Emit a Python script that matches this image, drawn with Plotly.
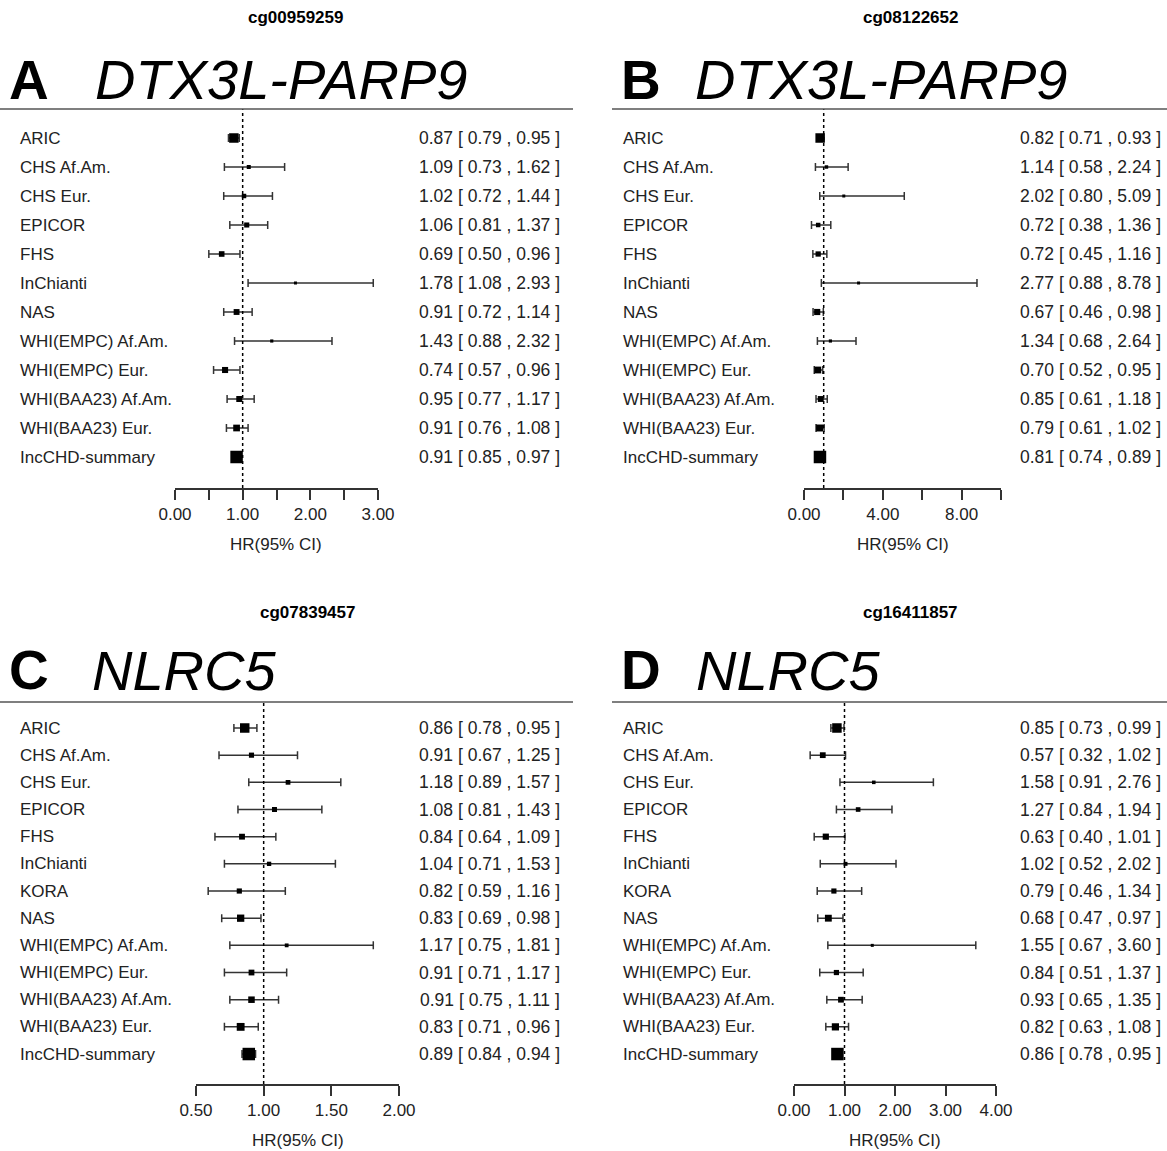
import numpy as np
import plotly.graph_objects as go

W, H = 1167, 1151
FONT = "Liberation Sans, Arial, sans-serif"
TXT = "#222222"
GREY = "#333333"

# ---------------- data ----------------
studies_ab = ["ARIC", "CHS Af.Am.", "CHS Eur.", "EPICOR", "FHS", "InChianti", "NAS",
              "WHI(EMPC) Af.Am.", "WHI(EMPC) Eur.", "WHI(BAA23) Af.Am.",
              "WHI(BAA23) Eur.", "IncCHD-summary"]
studies_cd = ["ARIC", "CHS Af.Am.", "CHS Eur.", "EPICOR", "FHS", "InChianti", "KORA", "NAS",
              "WHI(EMPC) Af.Am.", "WHI(EMPC) Eur.", "WHI(BAA23) Af.Am.",
              "WHI(BAA23) Eur.", "IncCHD-summary"]

# cg00959259 (DTX3L-PARP9)
a_hr = [0.87, 1.09, 1.02, 1.06, 0.69, 1.78, 0.91, 1.43, 0.74, 0.95, 0.91, 0.91]
a_lo = [0.79, 0.73, 0.72, 0.81, 0.50, 1.08, 0.72, 0.88, 0.57, 0.77, 0.76, 0.85]
a_hi = [0.95, 1.62, 1.44, 1.37, 0.96, 2.93, 1.14, 2.32, 0.96, 1.17, 1.08, 0.97]

# cg08122652 (DTX3L-PARP9)
b_hr = [0.82, 1.14, 2.02, 0.72, 0.72, 2.77, 0.67, 1.34, 0.70, 0.85, 0.79, 0.81]
b_lo = [0.71, 0.58, 0.80, 0.38, 0.45, 0.88, 0.46, 0.68, 0.52, 0.61, 0.61, 0.74]
b_hi = [0.93, 2.24, 5.09, 1.36, 1.16, 8.78, 0.98, 2.64, 0.95, 1.18, 1.02, 0.89]

# cg07839457 (NLRC5)
c_hr = [0.86, 0.91, 1.18, 1.08, 0.84, 1.04, 0.82, 0.83, 1.17, 0.91, 0.91, 0.83, 0.89]
c_lo = [0.78, 0.67, 0.89, 0.81, 0.64, 0.71, 0.59, 0.69, 0.75, 0.71, 0.75, 0.71, 0.84]
c_hi = [0.95, 1.25, 1.57, 1.43, 1.09, 1.53, 1.16, 0.98, 1.81, 1.17, 1.11, 0.96, 0.94]

# cg16411857 (NLRC5)
d_hr = [0.85, 0.57, 1.58, 1.27, 0.63, 1.02, 0.79, 0.68, 1.55, 0.84, 0.93, 0.82, 0.86]
d_lo = [0.73, 0.32, 0.91, 0.84, 0.40, 0.52, 0.46, 0.47, 0.67, 0.51, 0.65, 0.63, 0.78]
d_hi = [0.99, 1.02, 2.76, 1.94, 1.01, 2.02, 1.34, 0.97, 3.60, 1.37, 1.35, 1.08, 0.95]

# axis ticks per panel
a_ticks = [0, 0.5, 1, 1.5, 2, 2.5, 3]
a_ticktext = ["0.00", "", "1.00", "", "2.00", "", "3.00"]
b_ticks = [0, 2, 4, 6, 8, 10]
b_ticktext = ["0.00", "", "4.00", "", "8.00", ""]
c_ticks = [0.5, 1.0, 1.5, 2.0]
c_ticktext = ["0.50", "1.00", "1.50", "2.00"]
d_ticks = [0, 1, 2, 3, 4]
d_ticktext = ["0.00", "1.00", "2.00", "3.00", "4.00"]

# ---------------- layout geometry (pixels) ----------------
panels = [
    dict(cpg="cg00959259", letter="A", gene="DTX3L-PARP9", studies=studies_ab,
         hr=a_hr, lo=a_lo, hi=a_hi, ticks=a_ticks, ticktext=a_ticktext,
         xr=(0, 3), xpx=(175, 378), left=0, right=573, lab_x=18, ci_x=562,
         title_x=295, title_y=17, head_y=80, gene_x=93, rule_y=109,
         row0=138, step=29.0, axis_y=488),
    dict(cpg="cg08122652", letter="B", gene="DTX3L-PARP9", studies=studies_ab,
         hr=b_hr, lo=b_lo, hi=b_hi, ticks=b_ticks, ticktext=b_ticktext,
         xr=(0, 10), xpx=(804, 1001), left=612, right=1167, lab_x=621, ci_x=1163,
         title_x=910, title_y=17, head_y=80, gene_x=693, rule_y=109,
         row0=138, step=29.0, axis_y=488),
    dict(cpg="cg07839457", letter="C", gene="NLRC5", studies=studies_cd,
         hr=c_hr, lo=c_lo, hi=c_hi, ticks=c_ticks, ticktext=c_ticktext,
         xr=(0.5, 2), xpx=(196, 399), left=0, right=573, lab_x=18, ci_x=562,
         title_x=307, title_y=612, head_y=670, gene_x=90, rule_y=702,
         row0=728, step=27.17, axis_y=1084),
    dict(cpg="cg16411857", letter="D", gene="NLRC5", studies=studies_cd,
         hr=d_hr, lo=d_lo, hi=d_hi, ticks=d_ticks, ticktext=d_ticktext,
         xr=(0, 4), xpx=(794, 996), left=612, right=1167, lab_x=621, ci_x=1163,
         title_x=910, title_y=612, head_y=670, gene_x=694, rule_y=702,
         row0=728, step=27.17, axis_y=1084),
]


def px_x(p):
    return p / W


def px_y(p):
    return 1 - p / H


fig = go.Figure()
annotations = []
shapes = []
layout_axes = {}

for k, p in enumerate(panels, start=1):
    sfx = "" if k == 1 else str(k)
    xa, ya = "x" + sfx, "y" + sfx
    n = len(p["studies"])
    rows = np.arange(1, n + 1)
    hr = np.array(p["hr"])
    lo = np.array(p["lo"])
    hi = np.array(p["hi"])

    # box size shrinks with the width of the confidence interval
    width = hi - lo
    wmin = width[:-1].min()
    sizes = np.clip(9.5 * np.sqrt(wmin / width), 3, None)
    sizes[-1] = 12.5

    # confidence-interval whiskers first, boxes drawn on top
    fig.add_trace(go.Scatter(
        x=hr, y=rows, mode="markers", xaxis=xa, yaxis=ya, showlegend=False,
        marker=dict(size=1, color="rgba(0,0,0,0)"),
        error_x=dict(type="data", symmetric=False, array=hi - hr, arrayminus=hr - lo,
                     color=GREY, thickness=1.5, width=4),
        cliponaxis=False, hoverinfo="skip",
    ))
    fig.add_trace(go.Scatter(
        x=hr, y=rows, mode="markers", xaxis=xa, yaxis=ya, showlegend=False,
        marker=dict(symbol="square", size=sizes, color="black", opacity=1,
                    line=dict(width=0, color="black")),
        cliponaxis=False, hoverinfo="skip",
    ))

    top_val = 1 + (p["rule_y"] - p["row0"]) / p["step"]
    bot_val = 1 + (p["axis_y"] - p["row0"]) / p["step"]
    ydom = [px_y(p["axis_y"]), px_y(p["rule_y"])]
    xdom = [px_x(p["xpx"][0]), px_x(p["xpx"][1])]

    layout_axes["xaxis" + sfx] = dict(
        domain=xdom, range=list(p["xr"]), anchor=ya, showgrid=False, zeroline=False,
        showline=True, linecolor=GREY, linewidth=1.5, ticks="outside", ticklen=10,
        tickwidth=1.5, tickcolor=GREY, tickmode="array", tickvals=p["ticks"],
        ticktext=p["ticktext"], tickfont=dict(family=FONT, size=17, color=TXT),
        fixedrange=True, automargin=False,
    )
    layout_axes["yaxis" + sfx] = dict(
        domain=ydom, range=[bot_val, top_val], anchor=xa, visible=False,
        fixedrange=True, automargin=False,
    )

    # reference line at HR = 1
    shapes.append(dict(type="line", xref=xa, yref="paper", x0=1, x1=1,
                       y0=ydom[0], y1=ydom[1],
                       line=dict(color="black", width=1.5, dash="dot")))
    # rule under the panel heading
    shapes.append(dict(type="line", xref="paper", yref="paper",
                       x0=px_x(p["left"]), x1=px_x(p["right"]),
                       y0=px_y(p["rule_y"]), y1=px_y(p["rule_y"]),
                       line=dict(color="#555555", width=1.5)))

    # study names and HR [CI] text
    for i, name in enumerate(p["studies"]):
        annotations.append(dict(
            text=name, xref="paper", yref=ya, x=px_x(p["lab_x"]), y=i + 1,
            xanchor="left", yanchor="middle", showarrow=False,
            font=dict(family=FONT, size=17, color=TXT)))
        annotations.append(dict(
            text=f"{hr[i]:.2f} [ {lo[i]:.2f} , {hi[i]:.2f} ]", xref="paper", yref=ya,
            x=px_x(p["ci_x"]), y=i + 1, xanchor="right", yanchor="middle",
            showarrow=False, font=dict(family=FONT, size=17.5, color=TXT)))

    # axis caption
    annotations.append(dict(
        text="HR(95% CI)", xref="paper", yref="paper",
        x=(xdom[0] + xdom[1]) / 2, y=px_y(p["axis_y"] + 56), xanchor="center",
        yanchor="middle", showarrow=False, font=dict(family=FONT, size=17, color=TXT)))

    # CpG title, panel letter and gene name
    annotations.append(dict(
        text=f"<b>{p['cpg']}</b>", xref="paper", yref="paper", x=px_x(p["title_x"]),
        y=px_y(p["title_y"]), xanchor="center", yanchor="middle", showarrow=False,
        font=dict(family=FONT, size=17, color="black")))
    annotations.append(dict(
        text=f"<b>{p['letter']}</b>", xref="paper", yref="paper",
        x=px_x(p["left"] + 7), y=px_y(p["head_y"]), xanchor="left", yanchor="middle",
        showarrow=False, font=dict(family=FONT, size=55, color="black")))
    annotations.append(dict(
        text=f"<i>{p['gene']}</i>", xref="paper", yref="paper",
        x=px_x(p["gene_x"]), y=px_y(p["head_y"]), xanchor="left", yanchor="middle",
        showarrow=False, font=dict(family=FONT, size=56, color="black")))

fig.update_layout(
    template="none", autosize=False,
    width=W, height=H, margin=dict(l=0, r=0, t=0, b=0, pad=0),
    paper_bgcolor="white", plot_bgcolor="white",
    annotations=annotations, shapes=shapes, showlegend=False,
    **layout_axes,
)

fig.write_html(
    "out.html",
    config={"displayModeBar": False, "responsive": False},
    post_script="document.body.style.margin='0';document.body.style.overflow='hidden';",
)
